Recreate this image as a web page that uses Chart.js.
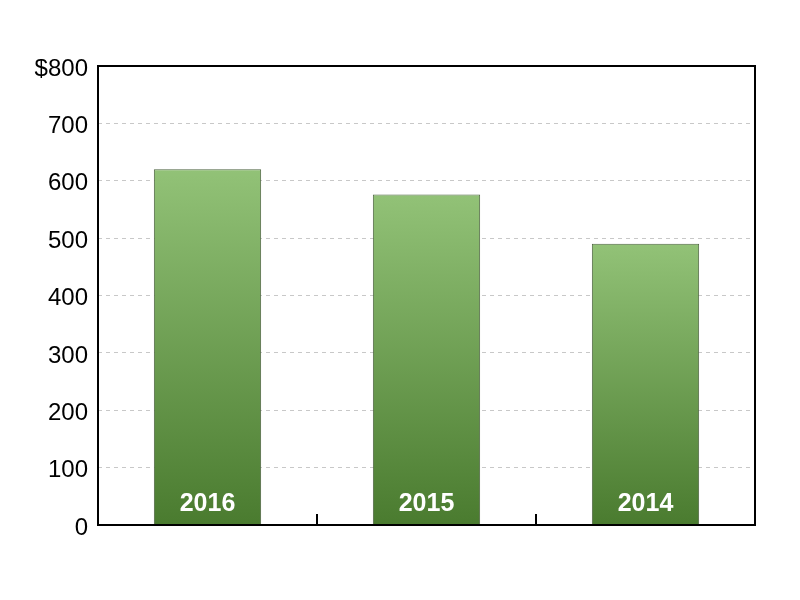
<!DOCTYPE html>
<html lang="en">
<head>
    <meta charset="UTF-8">
    <title>Yearly totals</title>
    <script src="https://cdn.jsdelivr.net/npm/chart.js"></script>
    <style>
        body { margin: 0; background: #fff; }
        .chart-box { width: 800px; height: 600px; }
    </style>
</head>
<body>
    <div class="chart-box"><canvas id="barChart" width="800" height="600"></canvas></div>

    <script>
        const years = ['2016', '2015', '2014'];
        const totals = [620, 576, 490];
        const yTicks = [0, 100, 200, 300, 400, 500, 600, 700, 800];

        // per-bar gradient, light at the top of each bar, dark at the base
        function barGradient(ctx) {
            const chart = ctx.chart;
            const area = chart.chartArea;
            if (!area || ctx.parsed == null) return '#6c9f4f';
            const top = chart.scales.y.getPixelForValue(ctx.parsed.y);
            const g = chart.ctx.createLinearGradient(0, top, 0, area.bottom);
            g.addColorStop(0, '#92c277');
            g.addColorStop(1, '#4a7b2f');
            return g;
        }

        const frameAndLabels = {
            id: 'frameAndLabels',
            afterDatasetsDraw(chart) {
                const { ctx, chartArea } = chart;
                const xs = chart.scales.x;
                ctx.save();
                // labels inside bars
                ctx.fillStyle = '#ffffff';
                ctx.font = 'bold 25px "Liberation Sans", Arial, sans-serif';
                ctx.textAlign = 'center';
                ctx.textBaseline = 'middle';
                chart.getDatasetMeta(0).data.forEach((bar, i) => {
                    ctx.fillText(years[i], bar.x, chartArea.bottom - 21);
                });
                // short ticks between categories
                ctx.strokeStyle = '#000';
                ctx.lineWidth = 2;
                for (let i = 0; i < years.length - 1; i++) {
                    const x = Math.round((xs.getPixelForValue(i) + xs.getPixelForValue(i + 1)) / 2);
                    ctx.beginPath();
                    ctx.moveTo(x, chartArea.bottom);
                    ctx.lineTo(x, chartArea.bottom - 11);
                    ctx.stroke();
                }
                // frame
                ctx.strokeRect(chartArea.left, chartArea.top, chartArea.right - chartArea.left, chartArea.bottom - chartArea.top);
                ctx.restore();
            }
        };

        new Chart(document.getElementById('barChart').getContext('2d'), {
            type: 'bar',
            data: {
                labels: years,
                datasets: [{
                    data: totals,
                    backgroundColor: barGradient,
                    borderColor: '#4d6440',
                    borderWidth: 1,
                    borderSkipped: 'bottom',
                    categoryPercentage: 1,
                    barPercentage: 0.49
                }]
            },
            options: {
                responsive: false,
                animation: false,
                layout: { padding: { top: 66, right: 45, bottom: 75, left: 0 } },
                scales: {
                    x: {
                        ticks: { display: false },
                        grid: { display: false, drawTicks: false },
                        border: { display: false },
                        afterFit: s => { s.height = 0; }
                    },
                    y: {
                        min: 0,
                        max: 800,
                        afterBuildTicks: s => { s.ticks = yTicks.map(v => ({ value: v })); },
                        afterFit: s => { s.width = 98; },
                        ticks: {
                            color: '#000',
                            padding: 10,
                            labelOffset: 3,
                            font: { size: 24, family: '"Liberation Sans", Arial, sans-serif' },
                            callback: v => v === 800 ? '$' + v : v
                        },
                        grid: { color: '#c8c8c8', drawTicks: false },
                        border: { display: false, dash: [4, 4] }
                    }
                },
                plugins: {
                    legend: { display: false },
                    tooltip: { enabled: false }
                }
            },
            plugins: [frameAndLabels]
        });
    </script>
</body>
</html>
